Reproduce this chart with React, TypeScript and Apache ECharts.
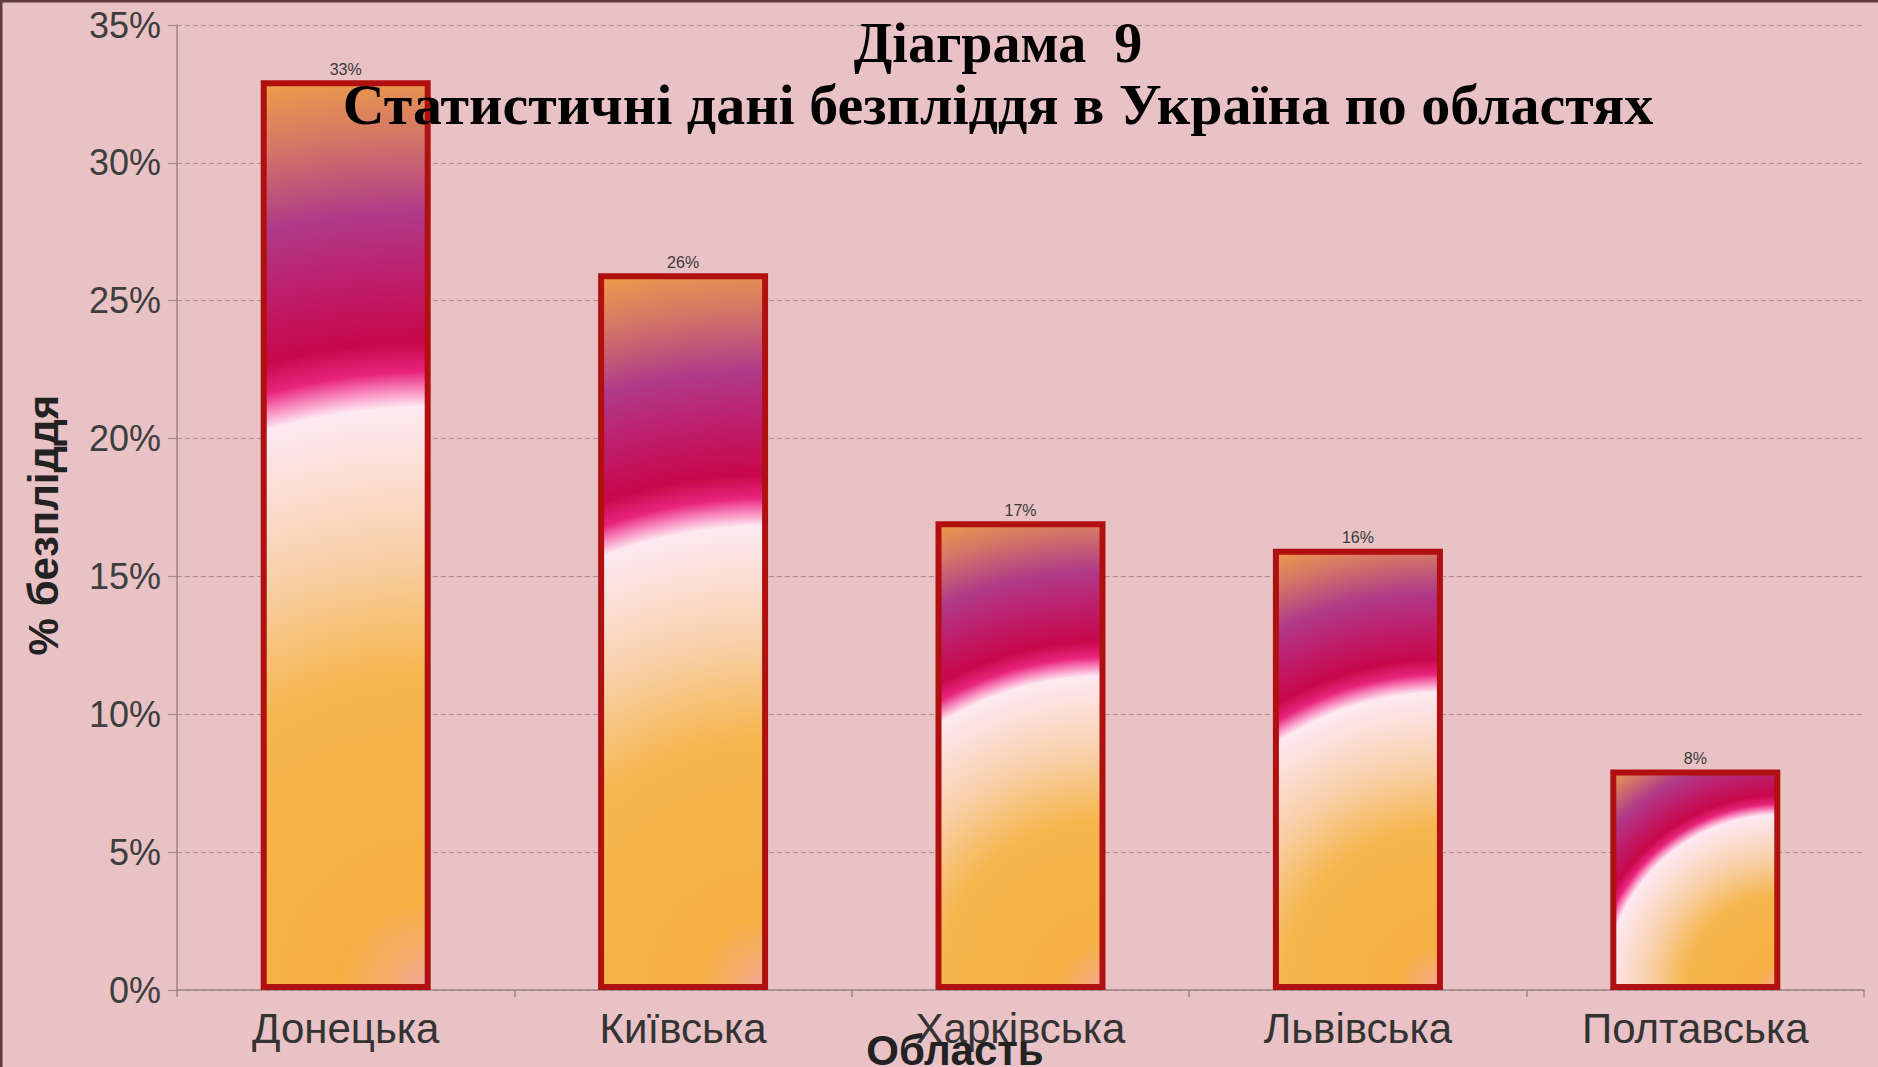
import React, { useEffect, useRef } from 'react';
import * as echarts from 'echarts';

const categories = ['Донецька', 'Київська', 'Харківська', 'Львівська', 'Полтавська'];
const values = [33, 26, 17, 16, 8];
const yMin = 0;
const yMax = 35;
const yStep = 5;
const titleLines = ['Діаграма  9', 'Статистичні дані безпліддя в Україна по областях'];
const xAxisName = 'Область';
const yAxisName = '% безпліддя';

const BAR_W = 170;
const SANS = '"Liberation Sans", Arial, sans-serif';
const SERIF = '"Liberation Serif", "Times New Roman", serif';

const barStops = [
  { offset: 0.0, color: '#f4a4a8' },
  { offset: 0.04, color: '#f5ac70' },
  { offset: 0.1, color: '#f5b042' },
  { offset: 0.34, color: '#f6b64e' },
  { offset: 0.47, color: '#f8cfa6' },
  { offset: 0.57, color: '#fcdfd8' },
  { offset: 0.63, color: '#fde9f1' },
  { offset: 0.648, color: '#f98cbf' },
  { offset: 0.668, color: '#e8247c' },
  { offset: 0.7, color: '#c8084a' },
  { offset: 0.78, color: '#bc2270' },
  { offset: 0.84, color: '#b03a88' },
  { offset: 0.92, color: '#d27468' },
  { offset: 1.0, color: '#f0a048' },
];

export default function App() {
  const ref = useRef<HTMLDivElement>(null);
  useEffect(() => {
    document.body.style.margin = '0';
    const chart = echarts.init(ref.current!, null, { renderer: 'svg' });
    const option: any = {
      animation: false,
      backgroundColor: '#e8c2c5',
      grid: { left: 177, right: 14, top: 25, bottom: 77, containLabel: false },
      xAxis: {
        type: 'category',
        data: categories,
        axisLine: { show: true, lineStyle: { color: '#9a8688', width: 1.5 } },
        axisTick: { show: true, length: 7, lineStyle: { color: '#9a8688', width: 1.5 } },
        axisLabel: { interval: 0, fontSize: 42, color: '#333', fontFamily: SANS, margin: 17 },
        splitLine: { show: false },
      },
      yAxis: {
        type: 'value',
        min: yMin,
        max: yMax,
        interval: yStep,
        axisLine: { show: true, lineStyle: { color: '#9a8688', width: 1.5 } },
        axisTick: { show: true, length: 9, lineStyle: { color: '#a08c8e', width: 1.2 } },
        axisLabel: { fontSize: 36, color: '#3e3e3e', fontFamily: SANS, margin: 16, formatter: '{value}%' },
        splitLine: { show: true, lineStyle: { color: '#a89294', width: 1.2, type: [5, 3] } },
      },
      graphic: [
        { type: 'line', z: 100, shape: { x1: 0, y1: 1, x2: 1878, y2: 1 }, style: { stroke: '#5e3c3e', lineWidth: 3 }, silent: true },
        { type: 'line', z: 100, shape: { x1: 1, y1: 0, x2: 1, y2: 1067 }, style: { stroke: '#5e3c3e', lineWidth: 3 }, silent: true },
        {
          type: 'text', x: 998, y: 43, z: 100,
          style: { text: titleLines[0], font: `bold 56px ${SERIF}`, fill: '#000', align: 'center', verticalAlign: 'middle' },
        },
        {
          type: 'text', x: 998, y: 104, z: 100,
          style: { text: titleLines[1], font: `bold 58px ${SERIF}`, fill: '#000', align: 'center', verticalAlign: 'middle' },
        },
        {
          type: 'text', x: 955, y: 1050, z: 100,
          style: { text: xAxisName, font: `bold 42px ${SANS}`, fill: '#222', align: 'center', verticalAlign: 'middle' },
        },
        {
          type: 'text', x: 43, y: 525, rotation: Math.PI / 2, z: 100,
          style: { text: yAxisName, font: `bold 42px ${SANS}`, fill: '#222', align: 'center', verticalAlign: 'middle' },
        },
      ],
      series: [
        {
          type: 'bar',
          data: values,
          barWidth: BAR_W,
          itemStyle: { color: '#f5b042', borderColor: '#b01010', borderWidth: 6 },
          label: {
            show: true, position: 'top', distance: 3, formatter: '{c}%',
            fontSize: 16, color: '#3a3a3a', fontFamily: SANS,
          },
        },
      ],
    };
    chart.setOption(option);
    const data = values.map((v, i) => {
      const p0 = chart.convertToPixel({ seriesIndex: 0 }, [i, 0]) as number[];
      const p1 = chart.convertToPixel({ seriesIndex: 0 }, [i, v]) as number[];
      const rx = p0[0] + BAR_W / 2;
      const by = p0[1];
      const h = by - p1[1];
      const r = Math.sqrt(BAR_W * BAR_W + h * h);
      return {
        value: v,
        itemStyle: { color: { type: 'radial', x: rx, y: by, r, global: true, colorStops: barStops } },
      };
    });
    chart.setOption({ series: [{ data }] });
    return () => chart.dispose();
  }, []);
  return <div ref={ref} style={{ width: 1878, height: 1067 }} />;
}
